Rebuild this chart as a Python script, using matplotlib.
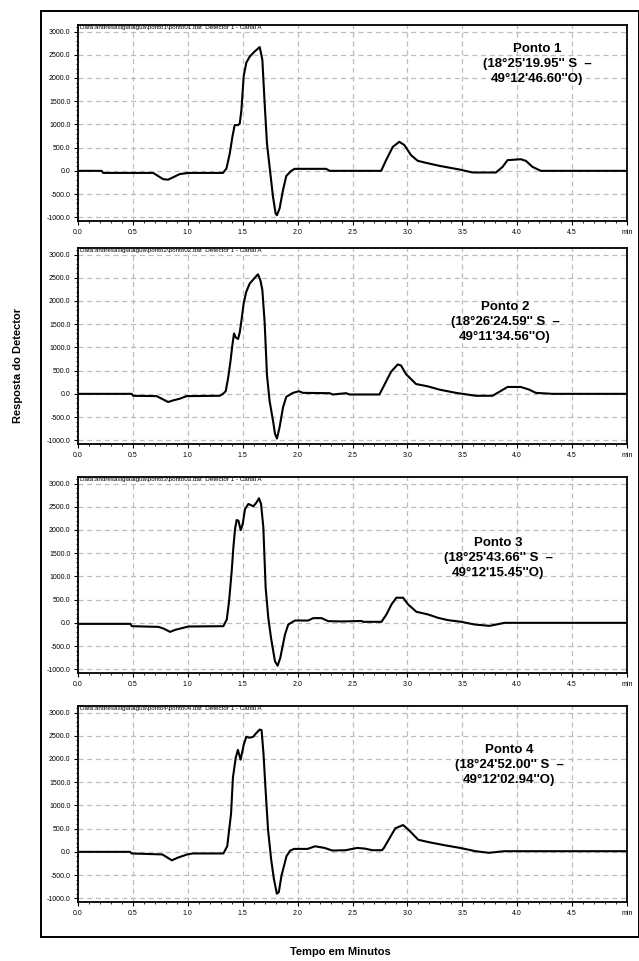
import matplotlib.pyplot as plt
from matplotlib.patches import Rectangle
from matplotlib.ticker import MultipleLocator

plt.rcParams['font.family'] = ['Liberation Sans', 'DejaVu Sans']

# Tempo (min) e resposta do detector para cada ponto
t1 = [0.0, 0.215, 0.23, 0.685, 0.776, 0.821, 0.927, 1.003, 1.321, 1.352, 1.382, 1.406, 1.427, 1.458,
      1.473, 1.488, 1.509, 1.533, 1.564, 1.609, 1.655, 1.679, 1.700, 1.721, 1.745, 1.776, 1.800, 1.812,
      1.836, 1.867, 1.897, 1.942, 1.973, 2.261, 2.291, 2.761, 2.806, 2.867, 2.927, 2.973, 3.033, 3.094,
      3.170, 3.291, 3.473, 3.594, 3.806, 3.867, 3.912, 4.033, 4.079, 4.139, 4.215, 5.0]
r1 = [0, 0, -45, -45, -180, -190, -70, -45, -45, 50, 370, 730, 985, 985,
      1020, 1300, 2040, 2330, 2460, 2570, 2665, 2390, 1450, 590, 85, -560, -920, -955,
      -810, -415, -110, 0, 43, 43, 0, 0, 230, 517, 625, 553, 338, 216,
      172, 108, 29, -36, -36, 86, 230, 250, 215, 86, 0, 0]

t2 = [0.0, 0.488, 0.503, 0.715, 0.745, 0.821, 0.867, 0.927, 0.988, 1.291, 1.321, 1.345, 1.367, 1.388,
      1.406, 1.421, 1.436, 1.458, 1.473, 1.488, 1.509, 1.533, 1.564, 1.609, 1.639, 1.661, 1.679, 1.700,
      1.721, 1.745, 1.776, 1.794, 1.812, 1.836, 1.867, 1.897, 1.958, 2.012, 2.048, 2.291, 2.321, 2.442,
      2.473, 2.745, 2.791, 2.852, 2.912, 2.942, 2.988, 3.079, 3.185, 3.291, 3.442, 3.624, 3.776, 3.836,
      3.912, 4.033, 4.109, 4.170, 4.321, 5.0]
r2 = [0, 0, -42, -49, -84, -176, -141, -105, -49, -42, 0, 56, 337, 689,
      1054, 1300, 1216, 1181, 1322, 1568, 1954, 2200, 2376, 2496, 2573, 2446, 2235, 1533,
      408, -155, -577, -858, -963, -717, -295, -63, 21, 56, 21, 14, -14, 14,
      -14, -14, 197, 478, 633, 610, 422, 211, 162, 91, 21, -42, -42, 42,
      148, 148, 91, 21, 0, 0]

t3 = [0.0, 0.476, 0.491, 0.733, 0.779, 0.839, 0.885, 0.945, 1.006, 1.324, 1.355, 1.376, 1.400, 1.415,
      1.430, 1.445, 1.461, 1.482, 1.500, 1.521, 1.552, 1.597, 1.627, 1.648, 1.667, 1.688, 1.709, 1.733,
      1.758, 1.794, 1.818, 1.842, 1.885, 1.915, 1.976, 2.097, 2.142, 2.218, 2.279, 2.400, 2.582, 2.597,
      2.764, 2.809, 2.855, 2.900, 2.961, 3.006, 3.082, 3.188, 3.279, 3.370, 3.491, 3.612, 3.748, 3.885, 5.0]
r3 = [-22, -22, -72, -87, -123, -195, -151, -115, -79, -72, 72, 469, 1118, 1622,
      2019, 2213, 2200, 1997, 2127, 2451, 2560, 2509, 2596, 2682, 2560, 2055, 757, 108,
      -324, -829, -923, -757, -252, -36, 50, 50, 101, 101, 36, 30, 40, 22,
      22, 180, 397, 541, 541, 397, 238, 180, 108, 58, 22, -36, -65, 0, 0]

t4 = [0.0, 0.472, 0.490, 0.768, 0.855, 0.907, 0.994, 1.046, 1.324, 1.359, 1.394, 1.411, 1.436, 1.456,
      1.481, 1.509, 1.533, 1.561, 1.596, 1.620, 1.655, 1.672, 1.690, 1.707, 1.731, 1.759, 1.784, 1.811,
      1.829, 1.853, 1.899, 1.933, 1.968, 2.090, 2.159, 2.246, 2.316, 2.438, 2.542, 2.612, 2.681, 2.768,
      2.786, 2.838, 2.890, 2.960, 3.012, 3.099, 3.203, 3.342, 3.481, 3.620, 3.742, 3.881, 5.0]
r4 = [0, 0, -35, -56, -183, -127, -56, -35, -35, 120, 824, 1598, 2020, 2196,
      1985, 2302, 2478, 2457, 2478, 2548, 2633, 2620, 2091, 1387, 472, -162, -584, -901,
      -866, -514, -92, 28, 63, 63, 120, 84, 28, 35, 84, 70, 35, 35,
      84, 296, 507, 577, 472, 260, 204, 141, 84, 14, -21, 14, 14]

times = [t1, t2, t3, t4]
resps = [r1, r2, r3, r4]
labels = [
    "Ponto 1\n(18°25'19.95'' S  \u2013\n49°12'46.60''O)",
    "Ponto 2\n(18°26'24.59'' S  \u2013\n49°11'34.56''O)",
    "Ponto 3\n(18°25'43.66'' S  \u2013\n49°12'15.45''O)",
    "Ponto 4\n(18°24'52.00'' S  \u2013\n49°12'02.94''O)",
]
headers = [
    "Data:andresa\\ligia\\agua\\ponto%d\\ponto0%d.dat  Detector 1 - Canal A" % (i, i)
    for i in range(1, 5)
]
xticks = [0.0, 0.5, 1.0, 1.5, 2.0, 2.5, 3.0, 3.5, 4.0, 4.5, 5.0]
xticklabels = ['0.0', '0.5', '1.0', '1.5', '2.0', '2.5', '3.0', '3.5', '4.0', '4.5', 'min']
yticks = [-1000, -500, 0, 500, 1000, 1500, 2000, 2500, 3000]

W, H = 639, 961
fig = plt.figure(figsize=(W / 100, H / 100), dpi=100)

# caixa externa
fig.patches.append(Rectangle((41 / W, 1 - 937 / H), 597.5 / W, 926 / H, transform=fig.transFigure,
                             fill=False, edgecolor='black', linewidth=1.4))

tops = [25, 248, 477, 706]
ax_h = 196
text_pos = [(537, 64), (505, 322), (498, 558), (509, 765)]

for i in range(4):
    ax = fig.add_axes([78 / W, 1 - (tops[i] + ax_h) / H, 549 / W, ax_h / H])
    ax.plot(times[i], resps[i], color='black', linewidth=1.5)
    ax.set_xlim(0, 5)
    ax.set_ylim(-1080, 3140)
    ax.set_xticks(xticks)
    ax.set_xticklabels(xticklabels)
    ax.set_yticks(yticks)
    ax.set_yticklabels(['%.1f' % v for v in yticks])
    ax.xaxis.set_minor_locator(MultipleLocator(0.1))
    ax.yaxis.set_minor_locator(MultipleLocator(100))
    ax.tick_params(which='major', direction='out', length=3, width=0.8, labelsize=5, pad=2.5)
    ax.tick_params(which='minor', direction='out', length=1.5, width=0.6)
    ax.grid(True, which='major', color='#bdbdbd', linestyle=(0, (4, 3)), linewidth=0.9)
    for sp in ax.spines.values():
        sp.set_linewidth(1.3)
    ax.text(0.004, 1.0, headers[i], transform=ax.transAxes, fontsize=4.5, va='top', ha='left')
    px, py = text_pos[i]
    fig.text(px / W, 1 - py / H, labels[i], ha='center', va='center', fontsize=9.5,
             fontweight='bold', linespacing=1.3)

fig.text(18 / W, 1 - 365 / H, 'Resposta do Detector', rotation=90, ha='center', va='center',
         fontsize=8, fontweight='bold')
fig.text(340 / W, 1 - 952 / H, 'Tempo em Minutos', ha='center', va='center',
         fontsize=8, fontweight='bold')

fig.savefig('out.png', dpi=100)
